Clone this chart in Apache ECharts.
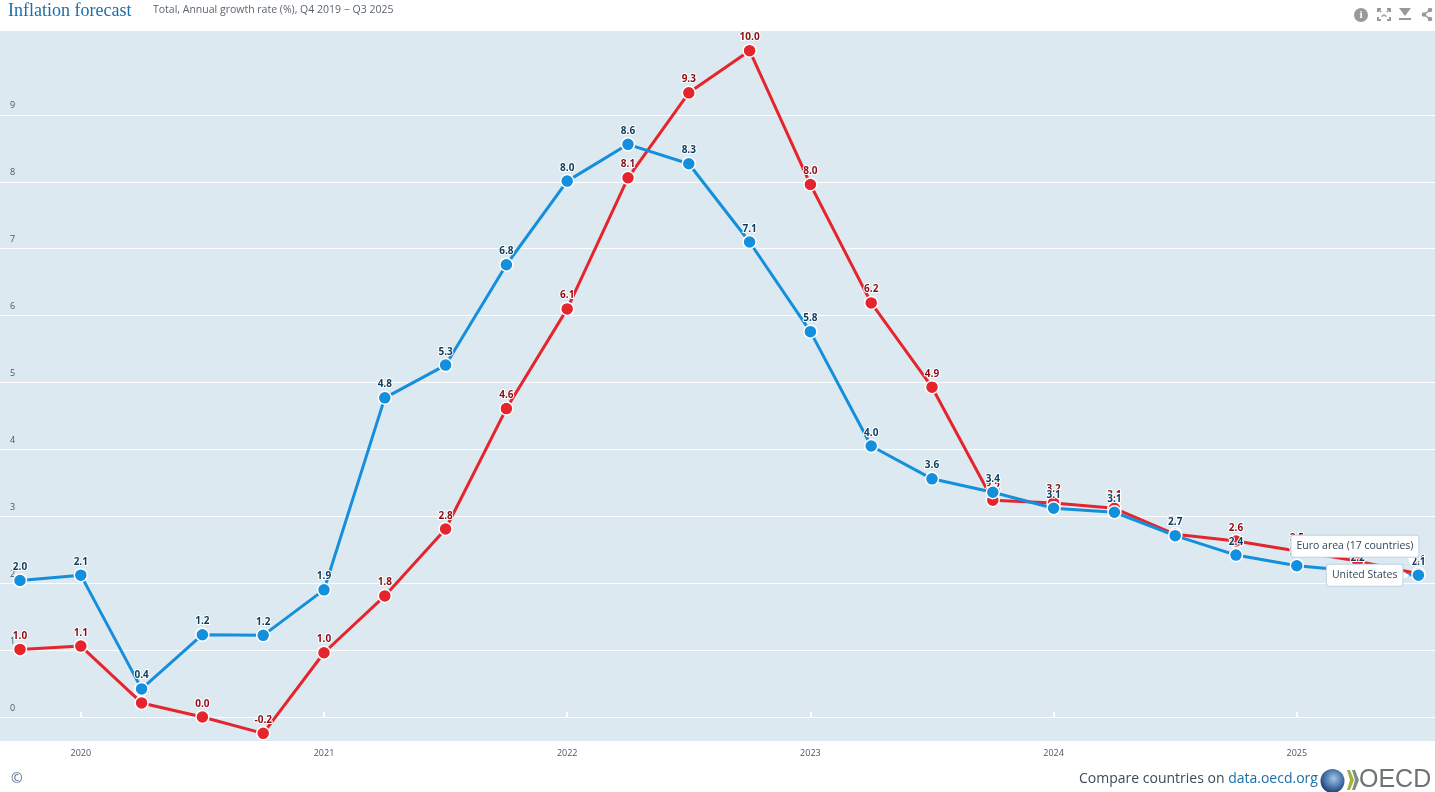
<!DOCTYPE html>
<html><head><meta charset="utf-8">
<style>html,body{margin:0;padding:0;background:#fff}#c{width:1435px;height:792px}</style>
<script src="https://cdn.jsdelivr.net/npm/echarts@6/dist/echarts.min.js"></script>
</head><body><div id="c"></div>
<script>
const quarters = ['2019-Q4','2020-Q1','2020-Q2','2020-Q3','2020-Q4','2021-Q1','2021-Q2','2021-Q3','2021-Q4','2022-Q1','2022-Q2','2022-Q3','2022-Q4','2023-Q1','2023-Q2','2023-Q3','2023-Q4','2024-Q1','2024-Q2','2024-Q3','2024-Q4','2025-Q1','2025-Q2','2025-Q3'];
const unitedStates = [2.04,2.12,0.42,1.23,1.22,1.90,4.77,5.26,6.76,8.01,8.56,8.27,7.10,5.76,4.05,3.56,3.36,3.12,3.06,2.71,2.42,2.26,2.18,2.12];
const euroArea = [1.01,1.06,0.21,0.00,-0.245,0.96,1.81,2.81,4.61,6.10,8.06,9.33,9.96,7.96,6.19,4.93,3.24,3.20,3.12,2.73,2.63,2.48,2.33,2.14];
const yTicks = [0,1,2,3,4,5,6,7,8,9];
const xTicks = [2020,2021,2022,2023,2024,2025];
const seriesNames = {us:'United States', euro:'Euro area (17 countries)'};

const BLUE='#148fdc', RED='#e5252d';
const toX = q => { const [y,k]=q.split('-Q'); return +y + (k-1)/4; };
const pairs = arr => arr.map((v,i)=>[toX(quarters[i]),v]);

function lineSeries(name,values,color,textColor,z){
  return {
    type:'line', name, z, data:pairs(values), clip:false, animation:false,
    symbol:'circle', symbolSize:13, showSymbol:true,
    lineStyle:{color,width:3},
    itemStyle:{color,borderColor:'#fff',borderWidth:1.5},
    label:{show:true,position:'top',distance:1,fontSize:10,fontWeight:'bold',
      fontFamily:'"Open Sans","Noto Sans",sans-serif',color:textColor,
      textBorderColor:'#fff',textBorderWidth:2,
      formatter:p=>p.value[1].toFixed(1)},
    emphasis:{disabled:true}
  };
}
const calloutStyle = {show:true,backgroundColor:'#fff',borderColor:'#b9d3e6',borderWidth:1,
  fontSize:10.5,fontFamily:'"Open Sans","Noto Sans",sans-serif',color:'#33485c',
  padding:[5,5,5,5],borderRadius:2};
const usS = lineSeries(seriesNames.us,unitedStates,BLUE,'#0d3f63',3);
const euS = lineSeries(seriesNames.euro,euroArea,RED,'#8c0b12',2);
const lastX = toX(quarters[quarters.length-1]);
const lastV = unitedStates[unitedStates.length-1];
usS.markPoint = {silent:true,animation:false,z:5,data:[
  {coord:[lastX,lastV],symbol:'triangle',symbolSize:[9,9],symbolRotate:-90,symbolOffset:[-13,0],
   itemStyle:{color:'#fff'},label:{show:false}},
  {coord:[lastX,lastV],symbol:'circle',symbolSize:0,
   label:Object.assign({},calloutStyle,{position:'left',distance:16,formatter:seriesNames.us})},
  {coord:[lastX,lastV],symbol:'triangle',symbolSize:[9,10],symbolRotate:180,symbolOffset:[-7,-14],
   itemStyle:{color:'#fff'},label:{show:false}},
  {coord:[lastX,lastV],symbol:'circle',symbolSize:0,
   label:Object.assign({},calloutStyle,{position:'left',offset:[0,-29],distance:0,formatter:seriesNames.euro})}
]};

const gray='#999';
const graphic = [
  {type:'text',left:8,top:2,style:{text:'Inflation forecast',font:'18px "Liberation Serif",serif',fill:'#1a6fa8'}},
  {type:'text',left:153,top:5,style:{text:'Total, Annual growth rate (%), Q4 2019 \u2212 Q3 2025',font:'10.5px "Open Sans","Noto Sans",sans-serif',fill:'#5b6570'}},
  // toolbar icons
  {type:'circle',shape:{cx:1361,cy:15,r:7},style:{fill:gray}},
  {type:'text',x:1361,y:15,style:{text:'i',font:'bold 11px "Liberation Serif",serif',fill:'#fff',align:'center',verticalAlign:'middle'}},
  {type:'polyline',shape:{points:[[1378,12],[1378,9],[1381,9]]},style:{stroke:gray,lineWidth:2,fill:null}},
  {type:'polyline',shape:{points:[[1387,9],[1390,9],[1390,12]]},style:{stroke:gray,lineWidth:2,fill:null}},
  {type:'polyline',shape:{points:[[1378,17],[1378,20],[1381,20]]},style:{stroke:gray,lineWidth:2,fill:null}},
  {type:'polyline',shape:{points:[[1387,20],[1390,20],[1390,17]]},style:{stroke:gray,lineWidth:2,fill:null}},
  {type:'line',shape:{x1:1379,y1:10,x2:1389,y2:19},style:{stroke:gray,lineWidth:1.5,lineDash:[3,4]}},
  {type:'line',shape:{x1:1389,y1:10,x2:1379,y2:19},style:{stroke:gray,lineWidth:1.5,lineDash:[3,4]}},
  {type:'polygon',shape:{points:[[1399,8],[1411,8],[1405,16]]},style:{fill:gray}},
  {type:'rect',shape:{x:1399,y:18,width:12,height:2},style:{fill:gray}},
  {type:'polyline',shape:{points:[[1430,10],[1424,14.5],[1430,19]]},style:{stroke:gray,lineWidth:1.5,fill:null}},
  {type:'circle',shape:{cx:1430,cy:10,r:2.3},style:{fill:gray}},
  {type:'circle',shape:{cx:1430,cy:19,r:2.3},style:{fill:gray}},
  {type:'circle',shape:{cx:1424,cy:14.5,r:2.3},style:{fill:gray}},
  // footer
  {type:'text',left:11,top:772,style:{text:'\u00a9',font:'14px "Open Sans","Noto Sans",sans-serif',fill:'#5b6f8f'}},
  {type:'text',left:1079,top:772,style:{rich:{a:{font:'14px "Open Sans","Noto Sans",sans-serif',fill:'#3b4a5a'},b:{font:'14px "Open Sans","Noto Sans",sans-serif',fill:'#1a6fa8'}},text:'{a|Compare countries on }{b|data.oecd.org}'}},
  {type:'circle',shape:{cx:1332.5,cy:781,r:12},style:{fill:{type:'radial',x:0.55,y:0.4,r:0.6,colorStops:[{offset:0,color:'#a9c4e2'},{offset:0.6,color:'#4a78ad'},{offset:1,color:'#1d3f70'}]}}},
  {type:'polygon',shape:{points:[[1347,770],[1350,770],[1354,780],[1350,790],[1347,790],[1350,780]]},style:{fill:'#a3b23c'}},
  {type:'polygon',shape:{points:[[1352,770],[1355,770],[1359,780],[1355,790],[1352,790],[1355,780]]},style:{fill:'#7f8c8d'}},
  {type:'text',left:1359,top:768,style:{text:'OECD',font:'25px "Liberation Sans",sans-serif',fill:'#6d7274'}}
];

const chart = echarts.init(document.getElementById('c'),null,{renderer:'canvas'});
chart.setOption({
  animation:false,
  grid:{left:0,right:0,top:31,height:710,show:true,backgroundColor:'#dde9f1',borderWidth:0},
  xAxis:{type:'value',min:2019.75-20/243.2,max:2019.75+1415/243.2,
    axisLine:{show:false},
    axisTick:{show:true,inside:true,length:5,lineStyle:{color:'#fff',width:2},customValues:xTicks},
    splitLine:{show:false},
    axisLabel:{show:true,margin:8,fontSize:9,color:'#4b5563',fontFamily:'"Open Sans","Noto Sans",sans-serif',
      customValues:xTicks,formatter:v=>String(v)}},
  yAxis:{type:'value',min:-0.359,max:10.254,
    axisLine:{show:false},
    axisTick:{show:false,customValues:yTicks},
    splitLine:{show:true,lineStyle:{color:'#fff',width:1}},
    axisLabel:{show:true,inside:true,margin:10,fontSize:9,color:'#4b5563',align:'left',verticalAlign:'bottom',
      lineHeight:18,fontFamily:'"Open Sans","Noto Sans",sans-serif',customValues:yTicks,formatter:v=>String(v)}},
  series:[euS,usS],
  graphic
});
</script></body></html>
